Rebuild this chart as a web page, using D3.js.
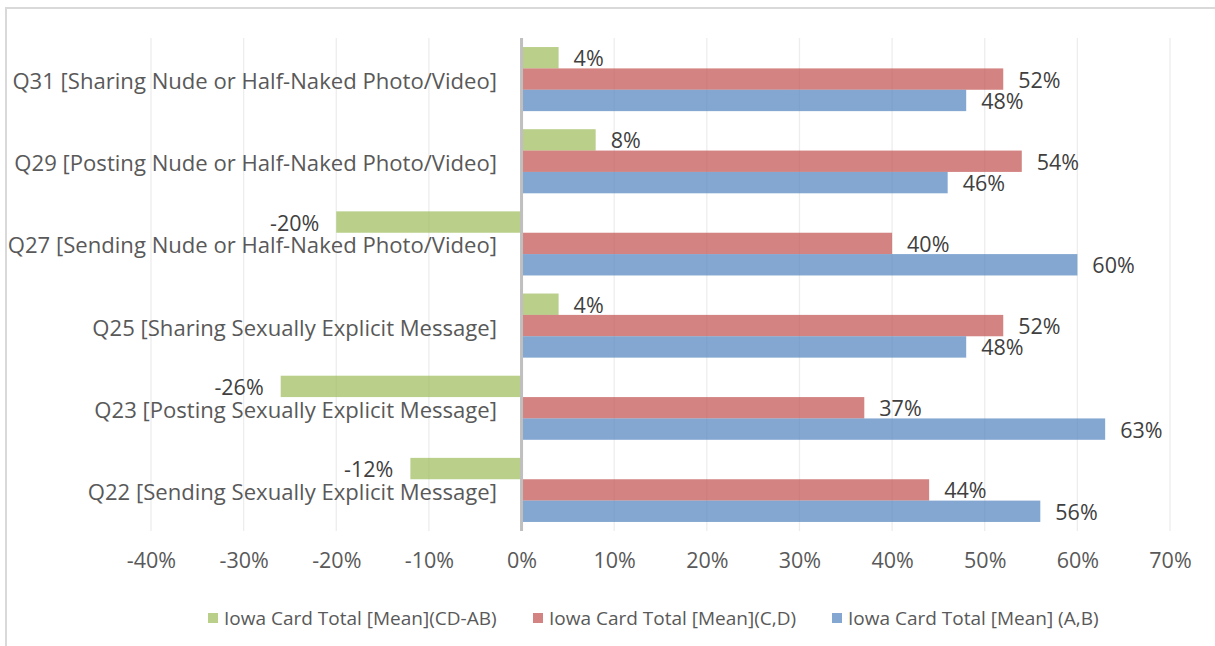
<!DOCTYPE html>
<html>
<head>
<meta charset="utf-8">
<script src="https://cdn.jsdelivr.net/npm/d3@7"></script>
<style>
  body { margin: 0; background: #fff; }
  svg { display: block; font-family: "Open Sans", sans-serif; }
</style>
</head>
<body>
<div id="chart"></div>
<script>
// Données
const categories = [
  "Q31 [Sharing Nude or Half-Naked Photo/Video]",
  "Q29 [Posting Nude or Half-Naked Photo/Video]",
  "Q27 [Sending Nude or Half-Naked Photo/Video]",
  "Q25 [Sharing Sexually Explicit Message]",
  "Q23 [Posting Sexually Explicit Message]",
  "Q22 [Sending Sexually Explicit Message]"
];
const seriesNames = [
  "Iowa Card Total [Mean](CD-AB)",
  "Iowa Card Total [Mean](C,D)",
  "Iowa Card Total [Mean] (A,B)"
];
const diffValues = [4, 8, -20, 4, -26, -12];
const cdValues = [52, 54, 40, 52, 37, 44];
const abValues = [48, 46, 60, 48, 63, 56];
const xTicks = [-40, -30, -20, -10, 0, 10, 20, 30, 40, 50, 60, 70];
const colors = ["#9BBB59", "#C0504D", "#4F81BD"];

const width = 1215, height = 646;
const margin = { top: 38, right: 45, bottom: 115, left: 151 };

const svg = d3.select("#chart").append("svg")
  .attr("width", width)
  .attr("height", height);

// Cadre
svg.append("rect")
  .attr("x", 6).attr("y", 8)
  .attr("width", width + 10).attr("height", height + 10)
  .attr("fill", "none")
  .attr("stroke", "#D9D9D9")
  .attr("stroke-width", 2);

const x = d3.scaleLinear().domain([-40, 70]).range([margin.left, width - margin.right]);
const y = d3.scaleBand().domain(categories).range([margin.top, height - margin.bottom]).paddingInner(0.22).paddingOuter(0.11);
const sub = d3.scaleBand().domain(seriesNames).range([0, y.bandwidth()]);

// Grille verticale
svg.append("g")
  .selectAll("line")
  .data(xTicks)
  .join("line")
  .attr("x1", d => x(d)).attr("x2", d => x(d))
  .attr("y1", margin.top).attr("y2", height - margin.bottom)
  .attr("stroke", "#EDEDED")
  .attr("stroke-width", 1.3);

// Étiquettes de l'axe x
const xAxis = svg.append("g")
  .attr("transform", `translate(0,${height - margin.bottom})`)
  .call(d3.axisBottom(x).tickValues(xTicks).tickFormat(d => d + "%").tickSize(0).tickPadding(22));
xAxis.select(".domain").remove();
xAxis.selectAll("text")
  .attr("font-family", "Open Sans, sans-serif")
  .attr("font-size", 21.5)
  .attr("fill", "#595959");

// Barres
const series = [diffValues, cdValues, abValues];
series.forEach((vals, s) => {
  const g = svg.append("g");
  g.selectAll("rect")
    .data(vals)
    .join("rect")
    .attr("x", d => x(Math.min(0, d)))
    .attr("y", (d, i) => y(categories[i]) + sub(seriesNames[s]))
    .attr("width", d => Math.abs(x(d) - x(0)))
    .attr("height", sub.bandwidth())
    .attr("fill", colors[s])
    .attr("fill-opacity", 0.7);

  g.selectAll("text")
    .data(vals)
    .join("text")
    .attr("x", d => d >= 0 ? x(d) + 15 : x(d) - 17)
    .attr("y", (d, i) => y(categories[i]) + sub(seriesNames[s]) + sub.bandwidth() / 2)
    .attr("text-anchor", d => d >= 0 ? "start" : "end")
    .attr("dominant-baseline", "central")
    .attr("font-size", 21.5)
    .attr("fill", "#404040")
    .text(d => d + "%");
});

// Axe zéro
svg.append("line")
  .attr("x1", x(0)).attr("x2", x(0))
  .attr("y1", margin.top).attr("y2", height - margin.bottom)
  .attr("stroke", "#BFBFBF")
  .attr("stroke-width", 3);

// Étiquettes des catégories
svg.append("g")
  .selectAll("text")
  .data(categories)
  .join("text")
  .attr("x", 497)
  .attr("y", d => y(d) + y.bandwidth() / 2 + 1)
  .attr("text-anchor", "end")
  .attr("dominant-baseline", "central")
  .attr("font-size", 22.1)
  .attr("fill", "#595959")
  .text(d => d);

// Légende
const legendX = [208, 533, 832];
const legend = svg.append("g")
  .selectAll("g")
  .data(seriesNames)
  .join("g")
  .attr("transform", (d, i) => `translate(${legendX[i]},618)`);
legend.append("rect")
  .attr("x", 0).attr("y", -5)
  .attr("width", 10).attr("height", 10)
  .attr("fill", (d, i) => colors[i])
  .attr("fill-opacity", 0.7);
legend.append("text")
  .attr("x", 16)
  .attr("dominant-baseline", "central")
  .attr("font-size", 19)
  .attr("fill", "#595959")
  .text(d => d);
</script>
</body>
</html>
